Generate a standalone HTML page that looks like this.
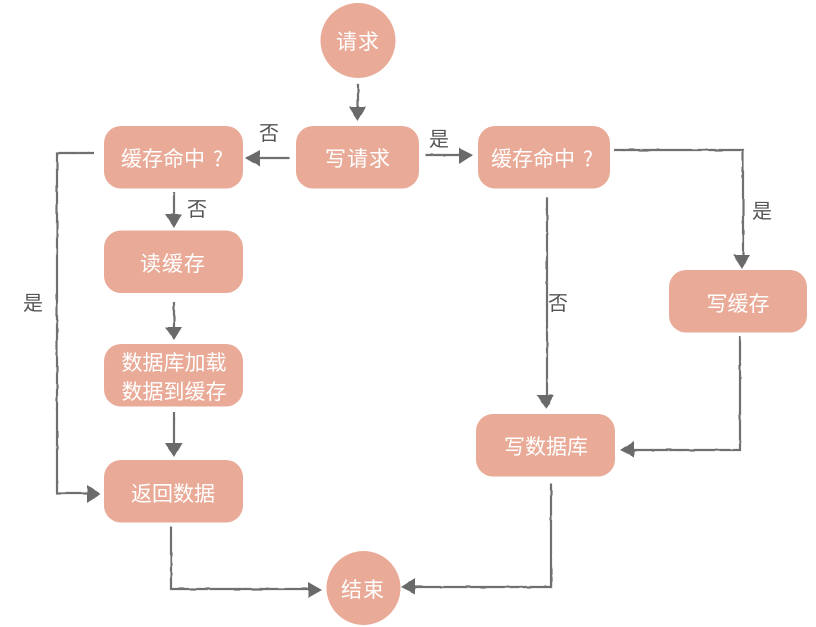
<!DOCTYPE html>
<html lang="zh"><head><meta charset="utf-8"><style>
html,body{margin:0;padding:0;background:#fff;width:816px;height:627px;overflow:hidden}
svg{display:block}
text{font-family:"WenQuanYi Zen Hei","Noto Sans CJK SC",sans-serif;text-anchor:middle}
.n{fill:#e9ab98}
.t{fill:#fff;font-size:21px}
.s{text-anchor:start}
.l{fill:#555;font-size:20px}
.c{fill:none;stroke:#707070;stroke-width:2.2}
.a{fill:#6a6a6a}
</style></head><body>
<svg width="816" height="627" viewBox="0 0 816 627" xmlns="http://www.w3.org/2000/svg">
<defs><filter id="r" filterUnits="userSpaceOnUse" x="0" y="0" width="816" height="627"><feTurbulence type="fractalNoise" baseFrequency="0.08" numOctaves="2" seed="4"/><feDisplacementMap in="SourceGraphic" scale="1.6" xChannelSelector="R" yChannelSelector="G"/></filter></defs>
<circle class="n" cx="358" cy="40.500" r="37.500"/>
<circle class="n" cx="363.500" cy="588" r="37"/>
<rect class="n" x="296" y="126" width="123" height="62.500" rx="17"/>
<rect class="n" x="104" y="126" width="139" height="62.500" rx="17"/>
<rect class="n" x="478" y="126" width="132" height="62.500" rx="17"/>
<rect class="n" x="104" y="230.500" width="139" height="62.500" rx="17"/>
<rect class="n" x="104" y="344" width="139" height="62.500" rx="17"/>
<rect class="n" x="104" y="460" width="139" height="62.500" rx="17"/>
<rect class="n" x="669" y="270" width="138" height="62.500" rx="17"/>
<rect class="n" x="476" y="414" width="139" height="62.500" rx="17"/>

<g filter="url(#r)">
<path class="c" d="M358 84V108"/><polygon class="a" points="349,107 366,107 358,121"/>
<path class="c" d="M290 158H258"/><polygon class="a" points="260,150 260,167 245,158"/>
<path class="c" d="M425 155H460"/><polygon class="a" points="459,148 459,164 473,155"/>
<path class="c" d="M174 192V215"/><polygon class="a" points="165,214 182,214 174,228"/>
<path class="c" d="M174 302V329"/><polygon class="a" points="165,327 182,327 174,340"/>
<path class="c" d="M174 412V445"/><polygon class="a" points="165,443 182,443 174,457"/>
<path class="c" d="M94 153H57V493H88"/><polygon class="a" points="87,485 87,503 101,494"/>
<path class="c" d="M171 526V589H308"/><polygon class="a" points="308,582 308,598 322,590"/>
<path class="c" d="M551 484V587H415"/><polygon class="a" points="415,578 415,594 401,587"/>
<path class="c" d="M547 197V396"/><polygon class="a" points="537,395 554,395 546,409"/>
<path class="c" d="M614 150H743V256"/><polygon class="a" points="733,255 750,255 742,269"/>
<path class="c" d="M740 336V450H634"/><polygon class="a" points="634,441 634,457 620,450"/>
</g>

<text class="t" x="358" y="49" letter-spacing="1">请求</text>
<text class="t" x="358" y="166" letter-spacing="1">写请求</text>
<text class="t s" x="121" y="166">缓存命中</text>
<text class="t s" x="213" y="166">?</text>
<text class="t s" x="491" y="166">缓存命中</text>
<text class="t s" x="583" y="166">?</text>
<text class="t" x="173" y="271" letter-spacing="1">读缓存</text>
<text class="t" x="174" y="370">数据库加载</text>
<text class="t" x="174" y="399">数据到缓存</text>
<text class="t" x="173" y="501">返回数据</text>
<text class="t" x="738" y="311">写缓存</text>
<text class="t" x="546" y="454">写数据库</text>
<text class="t" x="363" y="597" letter-spacing="1">结束</text>
<text class="l" x="269" y="140">否</text>
<text class="l" x="439" y="146">是</text>
<text class="l" x="197" y="216">否</text>
<text class="l" x="33" y="310">是</text>
<text class="l" x="558" y="310">否</text>
<text class="l" x="762" y="218">是</text>
</svg>
</body></html>
